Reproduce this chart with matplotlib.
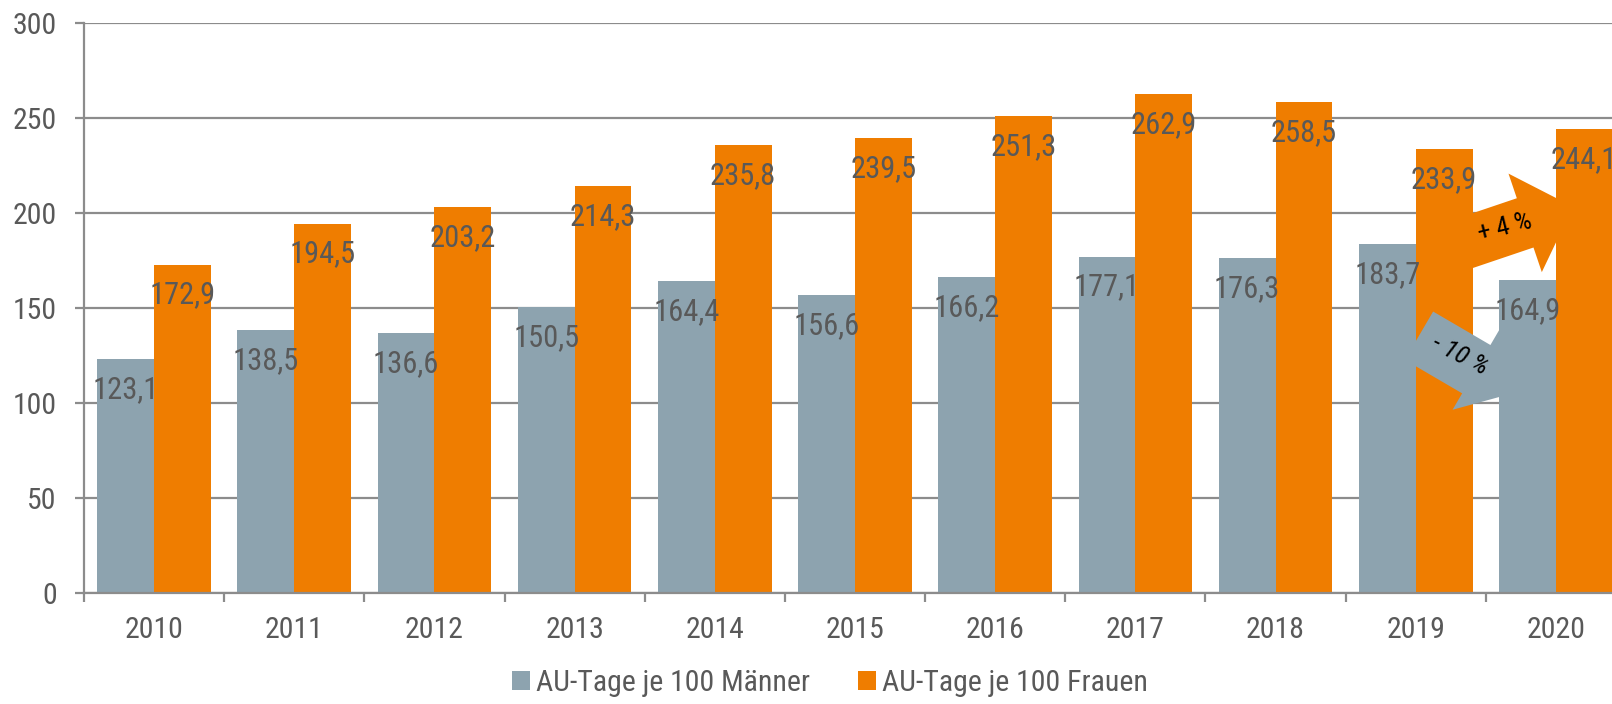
import matplotlib
matplotlib.use('Agg')
import matplotlib.pyplot as plt
from matplotlib import font_manager
import numpy as np

# ---- data ----
years = ['2010', '2011', '2012', '2013', '2014', '2015', '2016', '2017', '2018', '2019', '2020']
maenner = [123.1, 138.5, 136.6, 150.5, 164.4, 156.6, 166.2, 177.1, 176.3, 183.7, 164.9]
frauen = [172.9, 194.5, 203.2, 214.3, 235.8, 239.5, 251.3, 262.9, 258.5, 233.9, 244.1]
series_names = ['AU-Tage je 100 Männer', 'AU-Tage je 100 Frauen']
yticks = [0, 50, 100, 150, 200, 250, 300]
change_frauen = '+ 4 %'
change_maenner = '- 10 %'

# ---- style ----
names = {f.name for f in font_manager.fontManager.ttflist}
fam = 'Liberation Sans'
for cand in ['Arial Narrow', 'Liberation Sans Narrow', 'Roboto Condensed', 'Open Sans Condensed',
             'Fira Sans Condensed', 'Archivo Narrow', 'PT Sans Narrow', 'Pragati Narrow']:
    if cand in names:
        fam = cand
        break
plt.rcParams['font.family'] = [fam, 'DejaVu Sans']

GREY = '#8DA3AF'
ORANGE = '#EF7D00'
TEXT = '#595959'
LINE = '#8C8C8C'
FS = 21.5

W, H = 1612, 704
fig = plt.figure(figsize=(W / 100, H / 100), dpi=100)
ax_left, ax_right, ax_top, ax_bot = 84, 1626, 23.3, 592.7
ax = fig.add_axes([ax_left / W, (H - ax_bot) / H, (ax_right - ax_left) / W, (ax_bot - ax_top) / H])

x = np.arange(len(years))
bw = 0.405
b1 = ax.bar(x - bw / 2, maenner, width=bw, color=GREY, label=series_names[0], zorder=2)
b2 = ax.bar(x + bw / 2, frauen, width=bw, color=ORANGE, label=series_names[1], zorder=2)

for bars, vals in ((b1, maenner), (b2, frauen)):
    for rect, v in zip(bars, vals):
        ax.annotate(f'{v:.1f}'.replace('.', ','),
                    xy=(rect.get_x() + rect.get_width() / 2, v),
                    xytext=(0, -39), textcoords='offset pixels',
                    ha='center', va='baseline', fontsize=FS + 0.5, color=TEXT, zorder=5,
                    annotation_clip=False)

ax.set_xlim(-0.5, len(years) - 0.5)
ax.set_ylim(0, 300)
ax.set_yticks(yticks)
ax.set_yticklabels([str(t) for t in yticks])
ax.set_xticks(x)
ax.set_xticklabels(years)
ax.set_xticks(np.arange(len(years) + 1) - 0.5, minor=True)

ax.set_axisbelow(True)
ax.yaxis.grid(True, color=LINE, linewidth=1.6)
for s in ('top', 'right'):
    ax.spines[s].set_visible(False)
for s in ('left', 'bottom'):
    ax.spines[s].set_color(LINE)
    ax.spines[s].set_linewidth(1.6)

ax.tick_params(axis='y', length=6.5, width=1.6, color=LINE, pad=13, labelsize=FS, labelcolor=TEXT)
ax.tick_params(axis='x', which='major', length=0, pad=17, labelsize=FS, labelcolor=TEXT)
ax.tick_params(axis='x', which='minor', length=6.5, width=1.6, color=LINE)

# ---- change arrows ----
def px2data(px, py):
    xd = (px - ax_left) / ((ax_right - ax_left) / len(years)) - 0.5
    yd = (ax_bot - py) / ((ax_bot - ax_top) / 300)
    return xd, yd

pt = 0.72  # points per pixel at dpi 100
ax.annotate('', xy=px2data(1573, 206.7), xytext=px2data(1454.7, 246.7),
            arrowprops=dict(arrowstyle=f'simple,head_length={50.5*pt},head_width={104*pt},tail_width={52*pt}',
                            mutation_scale=1, shrinkA=0, shrinkB=0, fc=ORANGE, ec='none'),
            zorder=3, annotation_clip=False)
ax.annotate('', xy=px2data(1516, 392.4), xytext=px2data(1419, 335.7),
            arrowprops=dict(arrowstyle=f'simple,head_length={46*pt},head_width={94*pt},tail_width={56*pt}',
                            mutation_scale=1, shrinkA=0, shrinkB=0, fc=GREY, ec='none'),
            zorder=3, annotation_clip=False)
ax.text(*px2data(1505, 228), change_frauen, rotation=14, ha='center', va='center',
        fontsize=19, color='black', zorder=6, rotation_mode='anchor')
ax.text(*px2data(1460, 355), change_maenner, rotation=-27, ha='center', va='center',
        fontsize=19, color='black', style='italic', zorder=6, rotation_mode='anchor')

leg = fig.legend(handles=[b1, b2], labels=series_names, loc='center',
                 bbox_to_anchor=(830 / W, 21 / H), ncol=2, frameon=False,
                 fontsize=FS, handlelength=0.6, handleheight=0.6, handletextpad=0.2,
                 columnspacing=1.6, borderaxespad=0)
for t in leg.get_texts():
    t.set_color(TEXT)

fig.savefig('out.png', dpi=100)
